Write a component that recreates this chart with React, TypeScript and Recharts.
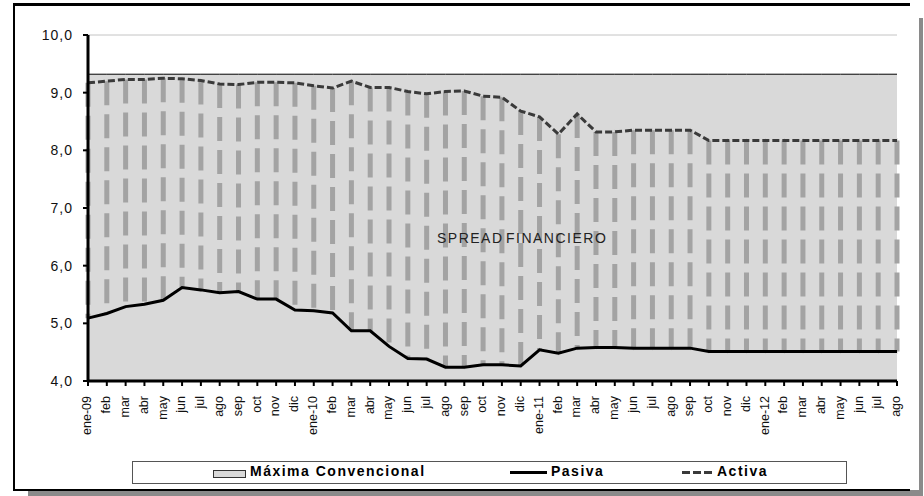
import { ComposedChart, Area, Line, ErrorBar, XAxis, YAxis, CartesianGrid } from 'recharts';

const meses = [
  'ene-09', 'feb', 'mar', 'abr', 'may', 'jun', 'jul', 'ago', 'sep', 'oct', 'nov', 'dic',
  'ene-10', 'feb', 'mar', 'abr', 'may', 'jun', 'jul', 'ago', 'sep', 'oct', 'nov', 'dic',
  'ene-11', 'feb', 'mar', 'abr', 'may', 'jun', 'jul', 'ago', 'sep', 'oct', 'nov', 'dic',
  'ene-12', 'feb', 'mar', 'abr', 'may', 'jun', 'jul', 'ago',
];

const pasiva = [
  5.09, 5.17, 5.29, 5.33, 5.40, 5.62, 5.58, 5.53, 5.55, 5.42, 5.42, 5.23,
  5.22, 5.18, 4.87, 4.87, 4.60, 4.39, 4.38, 4.24, 4.24, 4.28, 4.28, 4.26,
  4.54, 4.48, 4.57, 4.58, 4.58, 4.57, 4.57, 4.57, 4.57, 4.51, 4.51, 4.51,
  4.51, 4.51, 4.51, 4.51, 4.51, 4.51, 4.51, 4.51,
];

const activa = [
  9.17, 9.20, 9.23, 9.23, 9.25, 9.24, 9.21, 9.15, 9.14, 9.18, 9.18, 9.17,
  9.12, 9.08, 9.20, 9.09, 9.09, 9.02, 8.98, 9.02, 9.03, 8.94, 8.92, 8.68,
  8.58, 8.28, 8.63, 8.32, 8.32, 8.35, 8.35, 8.35, 8.35, 8.17, 8.17, 8.17,
  8.17, 8.17, 8.17, 8.17, 8.17, 8.17, 8.17, 8.17,
];

const maximaConvencional = 9.32;

const yTicks = [4, 5, 6, 7, 8, 9, 10];

const data = meses.map((mes, i) => ({
  mes,
  maxima: maximaConvencional,
  pasiva: pasiva[i],
  activa: activa[i],
  // high-low line drawn from activa down to pasiva
  spread: [0, pasiva[i] - activa[i]],
}));

const font = 'Arial, "Liberation Sans", sans-serif';

const MesTick = (props: any) => {
  const { x, y, payload } = props;
  return (
    <g transform={`translate(${x},${y})`}>
      <text
        transform="rotate(-90)"
        textAnchor="end"
        dominantBaseline="middle"
        fontSize={12.5}
        fontFamily={font}
        fill="#111"
      >
        {payload.value}
      </text>
    </g>
  );
};

export default function App() {
  return (
    <div style={{ position: 'absolute', left: 0, top: 0, width: 924, height: 496, background: '#fff', fontFamily: font }}>
      {/* frame and shadow */}
      <div style={{ position: 'absolute', left: 919, top: 18, width: 4, height: 478, background: '#8a8a8a' }} />
      <div style={{ position: 'absolute', left: 28, top: 490, width: 895, height: 6, background: '#8a8a8a' }} />
      <div
        style={{
          position: 'absolute', left: 13, top: 3, width: 895, height: 483,
          borderTop: '3px solid #000', borderLeft: '2px solid #000', borderBottom: '2px solid #000',
          background: '#fff',
        }}
      />

      <div style={{ position: 'absolute', left: 0, top: 0 }}>
        <ComposedChart width={924} height={496} data={data} margin={{ top: 35, right: 27, bottom: 65, left: 28 }}>
          <CartesianGrid vertical={false} stroke="#c4c4c4" />
          <XAxis
            dataKey="mes"
            interval={0}
            height={50}
            tick={<MesTick />}
            tickSize={5}
            tickMargin={10}
            axisLine={{ stroke: '#000', strokeWidth: 3 }}
            tickLine={{ stroke: '#000', strokeWidth: 2 }}
          />
          <YAxis
            domain={[4, 10]}
            ticks={yTicks}
            width={60}
            tickSize={5}
            tickMargin={10}
            tickFormatter={(v: number) => v.toFixed(1).replace('.', ',')}
            tick={{ fontSize: 14, fill: '#111', fontFamily: font, letterSpacing: 1 }}
            axisLine={{ stroke: '#000', strokeWidth: 3 }}
            tickLine={{ stroke: '#000', strokeWidth: 2 }}
          />
          <Area
            type="linear"
            dataKey="maxima"
            name="Máxima Convencional"
            fill="#d9d9d9"
            fillOpacity={1}
            stroke="#000"
            strokeWidth={1}
            isAnimationActive={false}
          />
          <Line
            type="linear"
            dataKey="activa"
            stroke="transparent"
            dot={false}
            activeDot={false}
            legendType="none"
            isAnimationActive={false}
          >
            <ErrorBar
              dataKey="spread"
              direction="y"
              width={0}
              stroke="#a3a3a3"
              strokeWidth={5}
              strokeDasharray="24 9"
              isAnimationActive={false}
            />
          </Line>
          <Line
            type="linear"
            dataKey="pasiva"
            name="Pasiva"
            stroke="#000"
            strokeWidth={3}
            dot={false}
            isAnimationActive={false}
          />
          <Line
            type="linear"
            dataKey="activa"
            name="Activa"
            stroke="#3a3a3a"
            strokeWidth={3}
            strokeDasharray="7 3"
            dot={false}
            isAnimationActive={false}
          />
        </ComposedChart>
      </div>

      <div
        style={{
          position: 'absolute', left: 437, top: 230, fontSize: 14, letterSpacing: 1.5,
          wordSpacing: -3, color: '#222', whiteSpace: 'nowrap',
        }}
      >
        SPREAD FINANCIERO
      </div>

      {/* legend */}
      <div
        style={{
          position: 'absolute', left: 132, top: 461, width: 713, height: 21,
          border: '1px solid #555', background: '#fff',
        }}
      >
        <div style={{ position: 'absolute', left: 80, top: 8, width: 31, height: 6, background: '#d9d9d9', border: '1px solid #333' }} />
        <div style={{ position: 'absolute', left: 117, top: 1, fontSize: 14, fontWeight: 'bold', letterSpacing: 1.5, whiteSpace: 'nowrap', color: '#000' }}>
          Máxima Convencional
        </div>
        <div style={{ position: 'absolute', left: 377, top: 9, width: 37, height: 3, background: '#000' }} />
        <div style={{ position: 'absolute', left: 418, top: 1, fontSize: 14, fontWeight: 'bold', letterSpacing: 1.5, whiteSpace: 'nowrap', color: '#000' }}>
          Pasiva
        </div>
        <svg style={{ position: 'absolute', left: 549, top: 8 }} width={32} height={5}>
          <line x1={0} y1={2.5} x2={32} y2={2.5} stroke="#3a3a3a" strokeWidth={3} strokeDasharray="8 3" />
        </svg>
        <div style={{ position: 'absolute', left: 584, top: 1, fontSize: 14, fontWeight: 'bold', letterSpacing: 1.5, whiteSpace: 'nowrap', color: '#000' }}>
          Activa
        </div>
      </div>
    </div>
  );
}
